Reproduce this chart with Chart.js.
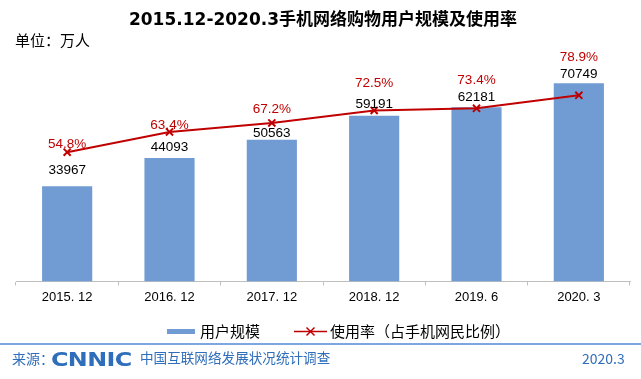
<!DOCTYPE html>
<html>
<head>
<meta charset="utf-8">
<script src="https://cdn.jsdelivr.net/npm/chart.js@4/dist/chart.umd.min.js"></script>
<style>
  html, body { margin: 0; padding: 0; background: #fff; }
  #wrap { position: relative; width: 641px; height: 379px; overflow: hidden; }
  #c { position: absolute; left: 0; top: 0; }
  .txt { position: absolute; white-space: nowrap; font-family: "Noto Sans CJK SC", sans-serif; line-height: 1; }
  #unit { left: 15px; top: 32px; font-size: 15px; color: #000; }
  #sep { position: absolute; left: 0; top: 343px; width: 641px; height: 2px; background: #7da7de; }
  #src { left: 12px; top: 351px; font-size: 14px; color: #2f6eba; }
  #logo { left: 51px; top: 349px; font-family: "DejaVu Sans", sans-serif; font-weight: bold; font-size: 20px; color: #2f6eba; transform-origin: left center; transform: scaleX(1.19); letter-spacing: -0.5px; }
  #survey { left: 140px; top: 351px; font-size: 13.6px; color: #2f6eba; }
  #date { left: 582px; top: 351px; font-size: 14px; color: #2f6eba; }
</style>
</head>
<body>
<div id="wrap">
  <canvas id="c" width="641" height="379"></canvas>
  <div class="txt" id="unit">单位：万人</div>
  <div id="sep"></div>
  <div class="txt" id="src">来源：</div>
  <div class="txt" id="logo">CNNIC</div>
  <div class="txt" id="survey">中国互联网络发展状况统计调查</div>
  <div class="txt" id="date">2020.3</div>
</div>
<script>
// ---- data ----
const categories = ["2015. 12", "2016. 12", "2017. 12", "2018. 12", "2019. 6", "2020. 3"];
const userScale = [33967, 44093, 50563, 59191, 62181, 70749];
const usageRate = [54.8, 63.4, 67.2, 72.5, 73.4, 78.9];
const seriesNames = ["用户规模", "使用率（占手机网民比例）"];
const chartTitle = "2015.12-2020.3手机网络购物用户规模及使用率";

// ---- styles ----
const BAR_COLOR = "#709bd3";
const LINE_COLOR = "#c00000";
const barLabelLift = [16, 11, 7, 11, 10, 9];
const rateLabelLift = [8, 7, 14, 27, 28, 38];

const labelPlugin = {
  id: "valueLabels",
  afterDatasetsDraw(chart) {
    const ctx = chart.ctx;
    ctx.save();
    ctx.textAlign = "center";
    ctx.textBaseline = "middle";
    ctx.font = "13.5px 'Liberation Sans', Arial, sans-serif";
    const barMeta = chart.getDatasetMeta(0);
    barMeta.data.forEach((el, i) => {
      ctx.fillStyle = "#000";
      ctx.fillText(String(chart.data.datasets[0].data[i]), el.x, el.y - barLabelLift[i]);
    });
    const lineMeta = chart.getDatasetMeta(1);
    lineMeta.data.forEach((el, i) => {
      ctx.fillStyle = LINE_COLOR;
      ctx.fillText(chart.data.datasets[1].data[i].toFixed(1) + "%", el.x, el.y - rateLabelLift[i]);
    });
    ctx.restore();
  }
};

const legendPlugin = {
  id: "customLegend",
  afterDraw(chart) {
    const ctx = chart.ctx;
    const y = 331.5;
    ctx.save();
    ctx.font = "15px 'Noto Sans CJK SC', sans-serif";
    ctx.textBaseline = "middle";
    ctx.textAlign = "left";
    ctx.fillStyle = BAR_COLOR;
    ctx.fillRect(167, y - 2.5, 28, 5);
    ctx.fillStyle = "#000";
    ctx.fillText(chart.data.datasets[0].label, 200, y);
    ctx.strokeStyle = LINE_COLOR;
    ctx.lineWidth = 1.5;
    ctx.beginPath();
    ctx.moveTo(294, y); ctx.lineTo(327, y); ctx.stroke();
    const cx = 310.5, r = 4;
    ctx.beginPath();
    ctx.moveTo(cx - r, y - r); ctx.lineTo(cx + r, y + r);
    ctx.moveTo(cx + r, y - r); ctx.lineTo(cx - r, y + r);
    ctx.stroke();
    ctx.fillStyle = "#000";
    ctx.fillText(chart.data.datasets[1].label, 330, y);
    ctx.restore();
  }
};

new Chart(document.getElementById("c"), {
  type: "bar",
  data: {
    labels: categories,
    datasets: [
      {
        type: "bar",
        label: seriesNames[0],
        data: userScale,
        backgroundColor: BAR_COLOR,
        borderWidth: 0,
        barPercentage: 0.49,
        categoryPercentage: 1,
        yAxisID: "y",
        order: 2
      },
      {
        type: "line",
        label: seriesNames[1],
        data: usageRate,
        borderColor: LINE_COLOR,
        backgroundColor: LINE_COLOR,
        borderWidth: 2,
        tension: 0,
        pointStyle: "crossRot",
        pointRadius: 5,
        pointBorderWidth: 2,
        pointBorderColor: LINE_COLOR,
        yAxisID: "y1",
        order: 1
      }
    ]
  },
  options: {
    responsive: false,
    animation: false,
    devicePixelRatio: 1,
    layout: { padding: { left: 16, right: 11, top: 0, bottom: 70 } },
    plugins: {
      legend: { display: false },
      tooltip: { enabled: false },
      title: {
        display: true,
        text: chartTitle,
        color: "#000",
        font: { family: "'DejaVu Sans', 'Noto Sans CJK SC', sans-serif", size: 17, weight: "bold" },
        padding: { top: 10, bottom: 27 }
      }
    },
    scales: {
      x: {
        grid: { display: true, drawOnChartArea: false, drawTicks: true, tickLength: 4, color: "#bfbfbf", offset: true },
        border: { display: true, color: "#bfbfbf", width: 1 },
        ticks: { color: "#000", padding: 4, font: { family: "'Liberation Sans', Arial, sans-serif", size: 13 }, maxRotation: 0 }
      },
      y: { display: false, min: 0, max: 80000 },
      y1: { display: false, min: 0, max: 95, position: "right" }
    }
  },
  plugins: [labelPlugin, legendPlugin]
});
</script>
</body>
</html>
